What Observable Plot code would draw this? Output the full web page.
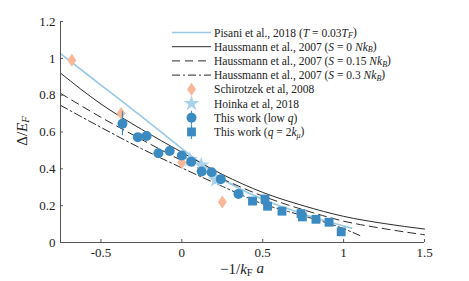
<!DOCTYPE html>
<html><head><meta charset="utf-8">
<script src="https://cdn.jsdelivr.net/npm/d3@7"></script>
<script src="https://cdn.jsdelivr.net/npm/@observablehq/plot@0.6"></script>
<style>
body{margin:0;background:#fff}
#chart{position:relative;width:469px;height:281px}
</style>
</head><body><div id="chart"></div>
<script>
// ---- data ----
const xTicks = [-0.5, 0, 0.5, 1, 1.5];
const yTicks = [0, 0.2, 0.4, 0.6, 0.8, 1, 1.2];

const pisaniX = [-0.75, -0.5, -0.25, 0, 0.125, 0.25, 0.375, 0.5, 0.75, 1.05];
const pisaniY = [1.025, 0.855, 0.685, 0.51, 0.425, 0.345, 0.285, 0.235, 0.155, 0.078];

const hausX = [-0.75, -0.5, -0.25, 0, 0.25, 0.5, 0.75, 1, 1.25, 1.5];
const haus0Y = [0.92, 0.752, 0.615, 0.49, 0.37, 0.272, 0.2, 0.142, 0.103, 0.073];
const haus15Y = [0.81, 0.68, 0.56, 0.445, 0.345, 0.252, 0.178, 0.116, 0.075, 0.042];
const haus3X = [-0.75, -0.5, -0.25, 0, 0.25, 0.5, 0.75, 1, 1.1];
const haus3Y = [0.745, 0.625, 0.51, 0.405, 0.305, 0.21, 0.145, 0.075, 0.038];

const schX = [-0.68, -0.375, 0, 0.25];
const schY = [0.99, 0.70, 0.435, 0.22];

const hoinkaX = [0.05, 0.12, 0.21];
const hoinkaY = [0.45, 0.42, 0.34];

const lowqX = [-0.367, -0.272, -0.218, -0.145, -0.075, 0, 0.058, 0.123, 0.184, 0.241, 0.35];
const lowqY = [0.645, 0.572, 0.578, 0.485, 0.497, 0.472, 0.438, 0.386, 0.381, 0.344, 0.264];
const lowqErr = [0.065, 0.01, 0.01, 0.01, 0.01, 0.01, 0.01, 0.01, 0.01, 0.01, 0.01];

const q2X = [0.437, 0.514, 0.53, 0.619, 0.737, 0.745, 0.829, 0.91, 0.985];
const q2Y = [0.225, 0.236, 0.197, 0.17, 0.157, 0.139, 0.126, 0.11, 0.058];
const q2Err = [0.01, 0.01, 0.01, 0.01, 0.01, 0.01, 0.01, 0.01, 0.01];

// ---- styles ----
const cPisani = "#98c9e6", cBlack = "#2b2b2b", cSch = "#f9b79a", cBlue = "#3b8bc2", cStar = "#a9d2ec";
const FONT = "'Liberation Serif', 'DejaVu Serif', serif";

const zip = (xs, ys, extra) => xs.map((x, i) => ({x, y: ys[i], e: extra ? extra[i] : 0}));
const pisani = zip(pisaniX, pisaniY);
const haus0 = zip(hausX, haus0Y);
const haus15 = zip(hausX, haus15Y);
const haus3 = zip(haus3X, haus3Y);
const sch = zip(schX, schY);
const hoinka = zip(hoinkaX, hoinkaY);
const lowq = zip(lowqX, lowqY, lowqErr);
const q2 = zip(q2X, q2Y, q2Err);

const diamond = {draw(ctx, size) { const w = 4.5, h = 6.5; ctx.moveTo(0, -h); ctx.lineTo(w, 0); ctx.lineTo(0, h); ctx.lineTo(-w, 0); ctx.closePath(); }};

const plot = Plot.plot({
  width: 469, height: 281,
  marginLeft: 60, marginRight: 45, marginTop: 21, marginBottom: 39,
  style: {fontFamily: FONT, fontSize: "13px", background: "#fff", color: "#222"},
  x: {domain: [-0.75, 1.5]},
  y: {domain: [0, 1.2]},
  marks: [
    Plot.line(pisani, {x: "x", y: "y", stroke: cPisani, strokeWidth: 1.6, curve: "monotone-x"}),
    Plot.line(haus0, {x: "x", y: "y", stroke: cBlack, strokeWidth: 1, curve: "monotone-x"}),
    Plot.line(haus15, {x: "x", y: "y", stroke: cBlack, strokeWidth: 1, strokeDasharray: "8,5", curve: "monotone-x"}),
    Plot.line(haus3, {x: "x", y: "y", stroke: cBlack, strokeWidth: 1, strokeDasharray: "8,3,2,3", curve: "monotone-x"}),
    Plot.dot(sch, {x: "x", y: "y", symbol: diamond, fill: cSch, stroke: null}),
    Plot.dot(hoinka, {x: "x", y: "y", symbol: "star", r: 5, fill: cStar, stroke: null}),
    Plot.ruleX(lowq, {x: "x", y1: d => d.y - d.e, y2: d => d.y + d.e, stroke: cBlue, strokeWidth: 1.2}),
    Plot.dot(lowq, {x: "x", y: "y", r: 5, fill: cBlue, stroke: null}),
    Plot.ruleX(q2, {x: "x", y1: d => d.y - d.e, y2: d => d.y + d.e, stroke: cBlue, strokeWidth: 1.2}),
    Plot.dot(q2, {x: "x", y: "y", symbol: "square", r: 5, fill: cBlue, stroke: null}),
    Plot.ruleX([-0.75], {stroke: "#555", strokeWidth: 1}),
    Plot.ruleY([0], {stroke: "#555", strokeWidth: 1}),
    Plot.axisX({ticks: xTicks, tickSize: -3, tickPadding: 8, tickFormat: d => String(d), label: null, stroke: "#555", fill: "#222"}),
    Plot.axisY({ticks: yTicks, tickSize: -3, tickPadding: 8, tickFormat: d => String(d), label: null, stroke: "#555", fill: "#222"})
  ]
});
document.getElementById("chart").appendChild(plot);

// ---- rich text helpers ----
const svg = d3.select(plot);
function rich(sel, parts) {
  parts.forEach(([t, s]) => {
    const ts = sel.append("tspan").text(t);
    if (s && s.includes("i")) ts.attr("font-style", "italic");
    if (s && s.includes("sub")) ts.attr("font-size", "0.7em").attr("dy", "0.2em");
    if (s && s.includes("back")) ts.attr("dy", "-0.2em");
  });
}

// axis labels
const xl = svg.append("text").attr("x", 242).attr("y", 274).attr("text-anchor", "middle")
  .attr("font-family", FONT).attr("font-size", 15).attr("fill", "#222");
rich(xl, [["\u22121/"], ["k", "i"], ["F", "sub"], [" "], ["a", "iback"]]);

const yl = svg.append("text").attr("transform", "translate(27,131) rotate(-90)").attr("text-anchor", "middle")
  .attr("font-family", FONT).attr("font-size", 15).attr("fill", "#222");
rich(yl, [["\u0394/"], ["E", "i"], ["F", "isub"]]);

// ---- legend ----
const legend = [
  {kind: "line", stroke: cPisani, w: 1.6, dash: null, text: [["Pisani et al., 2018 ("], ["T", "i"], [" = 0.03"], ["T", "i"], ["F", "isub"], [")", "back"]]},
  {kind: "line", stroke: cBlack, w: 1, dash: null, text: [["Haussmann et al., 2007 ("], ["S", "i"], [" = 0 "], ["Nk", "i"], ["B", "isub"], [")", "back"]]},
  {kind: "line", stroke: cBlack, w: 1, dash: "8,5", text: [["Haussmann et al., 2007 ("], ["S", "i"], [" = 0.15 "], ["Nk", "i"], ["B", "isub"], [")", "back"]]},
  {kind: "line", stroke: cBlack, w: 1, dash: "8,3,2,3", text: [["Haussmann et al., 2007 ("], ["S", "i"], [" = 0.3 "], ["Nk", "i"], ["B", "isub"], [")", "back"]]},
  {kind: "diamond", text: [["Schirotzek et al, 2008"]]},
  {kind: "star", text: [["Hoinka et al, 2018"]]},
  {kind: "circle", text: [["This work (low "], ["q", "i"], [")"]]},
  {kind: "square", text: [["This work ("], ["q", "i"], [" = 2"], ["k", "i"], ["\u03bc", "isub"], [")", "back"]]}
];
const lg = svg.append("g").attr("text-anchor", "start");
const lx0 = 172, lx1 = 211, lxm = 191.5, ltx = 214, ly0 = 32.5, ldy = 14.2;
legend.forEach((it, i) => {
  const y = ly0 + i * ldy;
  if (it.kind === "line") {
    lg.append("line").attr("x1", lx0).attr("x2", lx1).attr("y1", y).attr("y2", y)
      .attr("stroke", it.stroke).attr("stroke-width", it.w).attr("stroke-dasharray", it.dash);
  } else if (it.kind === "diamond") {
    lg.append("path").attr("d", "M0,-6.5L4.5,0L0,6.5L-4.5,0Z").attr("transform", `translate(${lxm},${y})`).attr("fill", cSch);
  } else if (it.kind === "star") {
    lg.append("path").attr("d", d3.symbol(d3.symbolStar, Math.PI * 25)()).attr("transform", `translate(${lxm},${y})`).attr("fill", cStar);
  } else if (it.kind === "circle") {
    lg.append("line").attr("x1", lxm).attr("x2", lxm).attr("y1", y - 7).attr("y2", y + 7).attr("stroke", cBlue).attr("stroke-width", 1.2);
    lg.append("circle").attr("cx", lxm).attr("cy", y).attr("r", 5).attr("fill", cBlue);
  } else if (it.kind === "square") {
    lg.append("line").attr("x1", lxm).attr("x2", lxm).attr("y1", y - 7).attr("y2", y + 7).attr("stroke", cBlue).attr("stroke-width", 1.2);
    lg.append("rect").attr("x", lxm - 4.4).attr("y", y - 4.4).attr("width", 8.8).attr("height", 8.8).attr("fill", cBlue);
  }
  const t = lg.append("text").attr("x", ltx).attr("y", y).attr("dy", "0.35em").attr("text-anchor", "start")
    .attr("font-family", FONT).attr("font-size", 11.5).attr("fill", "#222");
  rich(t, it.text);
});
</script>
</body></html>
